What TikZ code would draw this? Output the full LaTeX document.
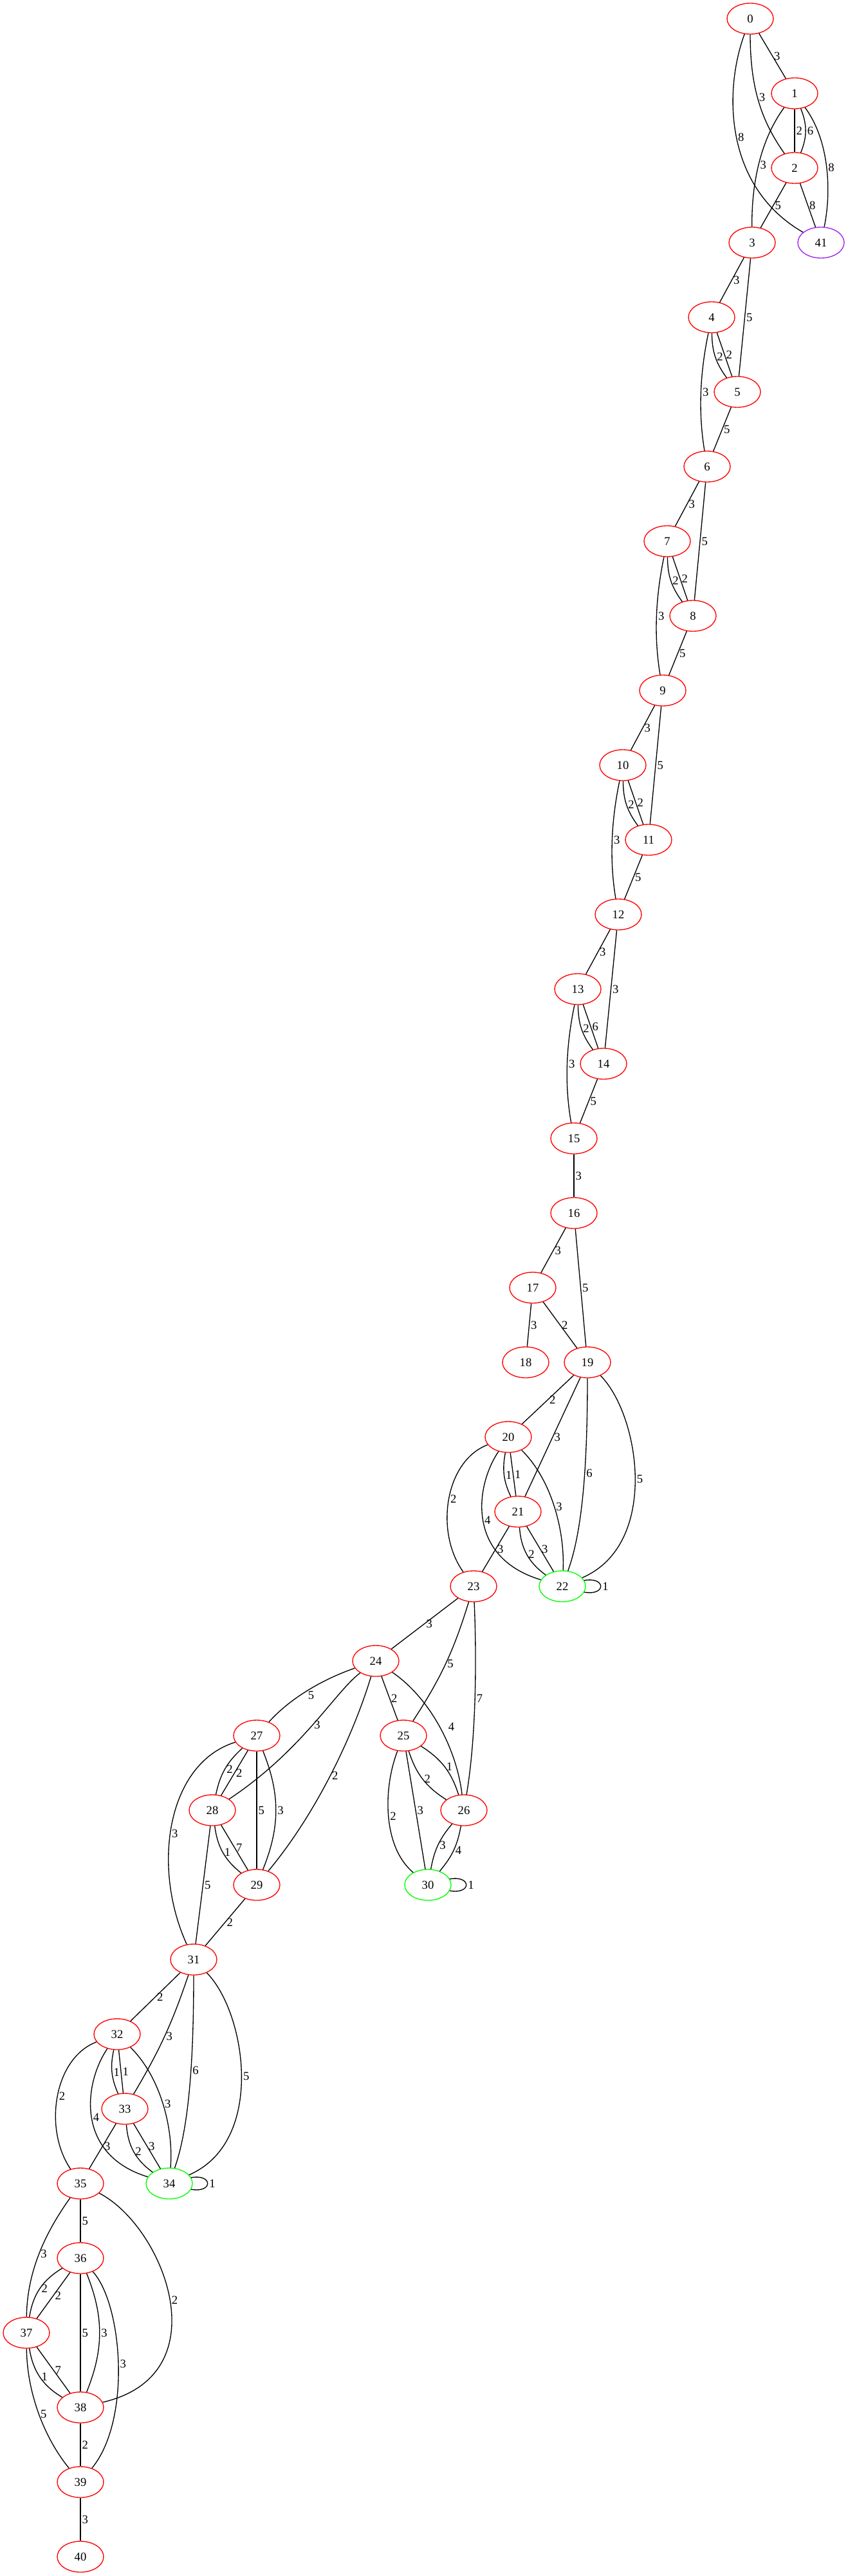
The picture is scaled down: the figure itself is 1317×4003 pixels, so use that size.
\documentclass[tikz,border=0pt]{standalone}
\usepackage{fontspec}
\setmainfont{Liberation Serif}
\usetikzlibrary{shapes.geometric}
\definecolor{vpurple}{HTML}{A020F0}
\begin{document}
\begin{tikzpicture}[x=0.75pt,y=0.75pt,line width=1pt,font=\fontsize{14}{16}\selectfont,
    vtx/.style={ellipse,draw=red,minimum width=54pt,minimum height=36pt,inner sep=0pt},
    lbl/.style={right,inner sep=1.5pt},
    lblb/.style={anchor=north west,inner sep=0.5pt}]
  \useasboundingbox (0,0) rectangle (1317,-4003);

  \node[vtx] (0) at (1166,-29) {0};
  \node[vtx] (1) at (1235,-145) {1};
  \node[vtx] (2) at (1235,-261) {2};
  \node[vtx] (3) at (1169,-377) {3};
  \node[vtx,draw=vpurple] (41) at (1276,-377) {41};
  \node[vtx] (4) at (1106,-493) {4};
  \node[vtx] (5) at (1146,-609) {5};
  \node[vtx] (6) at (1099,-725) {6};
  \node[vtx] (7) at (1037,-841) {7};
  \node[vtx] (8) at (1077,-957) {8};
  \node[vtx] (9) at (1030,-1073) {9};
  \node[vtx] (10) at (968,-1189) {10};
  \node[vtx] (11) at (1008,-1305) {11};
  \node[vtx] (12) at (961,-1421) {12};
  \node[vtx] (13) at (898,-1537) {13};
  \node[vtx] (14) at (938,-1653) {14};
  \node[vtx] (15) at (892,-1769) {15};
  \node[vtx] (16) at (892,-1885) {16};
  \node[vtx] (17) at (828,-2001) {17};
  \node[vtx] (18) at (817,-2117) {18};
  \node[vtx] (19) at (913,-2117) {19};
  \node[vtx] (20) at (790,-2233) {20};
  \node[vtx] (21) at (805,-2349) {21};
  \node[vtx,draw=green] (22) at (874,-2465) {22};
  \node[vtx] (23) at (736,-2465) {23};
  \node[vtx] (24) at (584,-2581) {24};
  \node[vtx] (25) at (627,-2697) {25};
  \node[vtx] (27) at (399,-2697) {27};
  \node[vtx] (26) at (721,-2813) {26};
  \node[vtx] (28) at (330,-2813) {28};
  \node[vtx] (29) at (399,-2929) {29};
  \node[vtx,draw=green] (30) at (665,-2929) {30};
  \node[vtx] (31) at (301,-3045) {31};
  \node[vtx] (32) at (182,-3161) {32};
  \node[vtx] (33) at (194,-3277) {33};
  \node[vtx,draw=green] (34) at (263,-3393) {34};
  \node[vtx] (35) at (125,-3393) {35};
  \node[vtx] (36) at (125,-3509) {36};
  \node[vtx] (37) at (41,-3625) {37};
  \node[vtx] (38) at (125,-3741) {38};
  \node[vtx] (39) at (125,-3857) {39};
  \node[vtx] (40) at (125,-3973) {40};

  \draw (0) -- node[lbl] {3} (1);
  \draw (0) .. controls (1166,-140) and (1185,-190) .. node[lbl,pos=0.45] {3} (2);
  \draw (0) .. controls (1125,-140) and (1125,-290) .. node[lbl] {8} (41);
  \draw (1) -- node[lbl] {2} (2);
  \draw (1) to[bend left=22] node[lbl] {6} (2);
  \draw (1) .. controls (1180,-220) and (1168,-290) .. node[lbl] {3} (3);
  \draw (1) .. controls (1290,-220) and (1292,-300) .. node[lbl] {8} (41);
  \draw (2) -- node[lbl] {5} (3);
  \draw (2) -- node[lbl] {8} (41);
  \draw (3) -- node[lbl] {3} (4);
  \draw (3) -- node[lbl] {5} (5);
  \draw (4) to[bend right=18] node[lbl] {2} (5);
  \draw (4) -- node[lbl] {2} (5);
  \draw (4) .. controls (1088,-580) and (1085,-640) .. node[lbl] {3} (6);
  \draw (5) -- node[lbl] {5} (6);
  \draw (6) -- node[lbl] {3} (7);
  \draw (6) -- node[lbl] {5} (8);
  \draw (7) to[bend right=18] node[lbl] {2} (8);
  \draw (7) -- node[lbl] {2} (8);
  \draw (7) .. controls (1019,-928) and (1016,-988) .. node[lbl] {3} (9);
  \draw (8) -- node[lbl] {5} (9);
  \draw (9) -- node[lbl] {3} (10);
  \draw (9) -- node[lbl] {5} (11);
  \draw (10) to[bend right=18] node[lbl] {2} (11);
  \draw (10) -- node[lbl] {2} (11);
  \draw (10) .. controls (950,-1276) and (947,-1336) .. node[lbl] {3} (12);
  \draw (11) -- node[lbl] {5} (12);
  \draw (12) -- node[lbl] {3} (13);
  \draw (12) -- node[lbl] {3} (14);
  \draw (13) to[bend right=18] node[lbl] {2} (14);
  \draw (13) -- node[lbl] {6} (14);
  \draw (13) .. controls (880,-1624) and (877,-1684) .. node[lbl] {3} (15);
  \draw (14) -- node[lbl] {5} (15);
  \draw (15) -- node[lbl] {3} (16);
  \draw (16) -- node[lbl] {3} (17);
  \draw (16) -- node[lbl] {5} (19);
  \draw (17) -- node[lbl] {3} (18);
  \draw (17) -- node[lbl] {2} (19);
  \draw (19) -- node[lbl] {2} (20);
  \draw (19) -- node[lbl] {3} (21);
  \draw (19) .. controls (913,-2280) and (905,-2380) .. node[lbl,pos=0.4] {6} (22);
  \draw (19) .. controls (995,-2200) and (1025,-2400) .. node[lbl] {5} (22);
  \draw (20) to[bend right=18] node[lbl] {1} (21);
  \draw (20) -- node[lbl] {1} (21);
  \draw (20) .. controls (858,-2300) and (878,-2380) .. node[lbl] {3} (22);
  \draw (20) .. controls (738,-2310) and (725,-2420) .. node[lbl] {4} (22);
  \draw (20) .. controls (692,-2270) and (675,-2380) .. node[lbl] {2} (23);
  \draw (21) to[bend right=25] node[lbl] {2} (22);
  \draw (21) -- node[lbl] {3} (22);
  \draw (21) -- node[lbl] {3} (23);
  \draw (22.15) to[out=10,in=-10,distance=26pt] node[lbl] {1} (22.-15);
  \draw (23) -- node[lbl] {3} (24);
  \draw (23) to[bend left=8] node[lbl] {5} (25);
  \draw (23) .. controls (741,-2580) and (740,-2700) .. node[lbl] {7} (26);
  \draw (24) -- node[lbl] {2} (25);
  \draw (24) .. controls (670,-2640) and (710,-2720) .. node[lbl,xshift=8pt] {4} (26);
  \draw (24) .. controls (500,-2610) and (450,-2640) .. node[lblb] {5} (27);
  \draw (24) .. controls (520,-2630) and (470,-2720) .. node[lbl] {3} (28);
  \draw (24) .. controls (548,-2700) and (490,-2820) .. node[lbl] {2} (29);
  \draw (25) to[bend right=20] node[lbl] {2} (26);
  \draw (25) to[bend left=20] node[lbl] {1} (26);
  \draw (25) .. controls (595,-2780) and (595,-2870) .. node[lbl] {2} (30);
  \draw (25) -- node[lbl] {3} (30);
  \draw (26) to[bend right=15] node[lbl] {3} (30);
  \draw (26) to[bend left=15] node[lbl] {4} (30);
  \draw (30.15) to[out=10,in=-10,distance=26pt] node[lbl] {1} (30.-15);
  \draw (27) to[bend right=18] node[lbl] {2} (28);
  \draw (27) -- node[lbl] {2} (28);
  \draw (27) -- node[lbl] {5} (29);
  \draw (27) to[bend left=22] node[lbl] {3} (29);
  \draw (27) .. controls (260,-2740) and (235,-2900) .. node[lbl,pos=0.55] {3} (31);
  \draw (28) to[bend right=22] node[lbl] {1} (29);
  \draw (28) -- node[lbl] {7} (29);
  \draw (28) -- node[lbl] {5} (31);
  \draw (29) -- node[lbl] {2} (31);
  \draw (31) -- node[lbl] {2} (32);
  \draw (31) to[bend left=6] node[lbl] {3} (33);
  \draw (31) .. controls (301,-3208) and (293,-3308) .. node[lbl,pos=0.4] {6} (34);
  \draw (31) .. controls (383,-3128) and (413,-3328) .. node[lbl] {5} (34);
  \draw (32) to[bend right=18] node[lbl] {1} (33);
  \draw (32) -- node[lbl] {1} (33);
  \draw (32) .. controls (250,-3228) and (270,-3308) .. node[lbl] {3} (34);
  \draw (32) .. controls (130,-3238) and (117,-3348) .. node[lbl] {4} (34);
  \draw (32) .. controls (84,-3198) and (67,-3308) .. node[lbl] {2} (35);
  \draw (33) to[bend right=25] node[lbl] {2} (34);
  \draw (33) -- node[lbl] {3} (34);
  \draw (33) -- node[lbl] {3} (35);
  \draw (34.15) to[out=10,in=-10,distance=26pt] node[lbl] {1} (34.-15);
  \draw (35) -- node[lbl] {5} (36);
  \draw (35) .. controls (70,-3470) and (42,-3530) .. node[lbl] {3} (37);
  \draw (35) .. controls (255,-3460) and (345,-3690) .. node[lbl] {2} (38);
  \draw (36) to[bend right=25] node[lbl] {2} (37);
  \draw (36) -- node[lbl] {2} (37);
  \draw (36) -- node[lbl] {5} (38);
  \draw (36) to[bend left=22] node[lbl] {3} (38);
  \draw (36) .. controls (190,-3580) and (205,-3760) .. node[lbl] {3} (39);
  \draw (37) to[bend right=25] node[lbl] {1} (38);
  \draw (37) -- node[lbl] {7} (38);
  \draw (37) .. controls (42,-3720) and (70,-3790) .. node[lbl] {5} (39);
  \draw (38) -- node[lbl] {2} (39);
  \draw (39) -- node[lbl] {3} (40);
\end{tikzpicture}
\end{document}
